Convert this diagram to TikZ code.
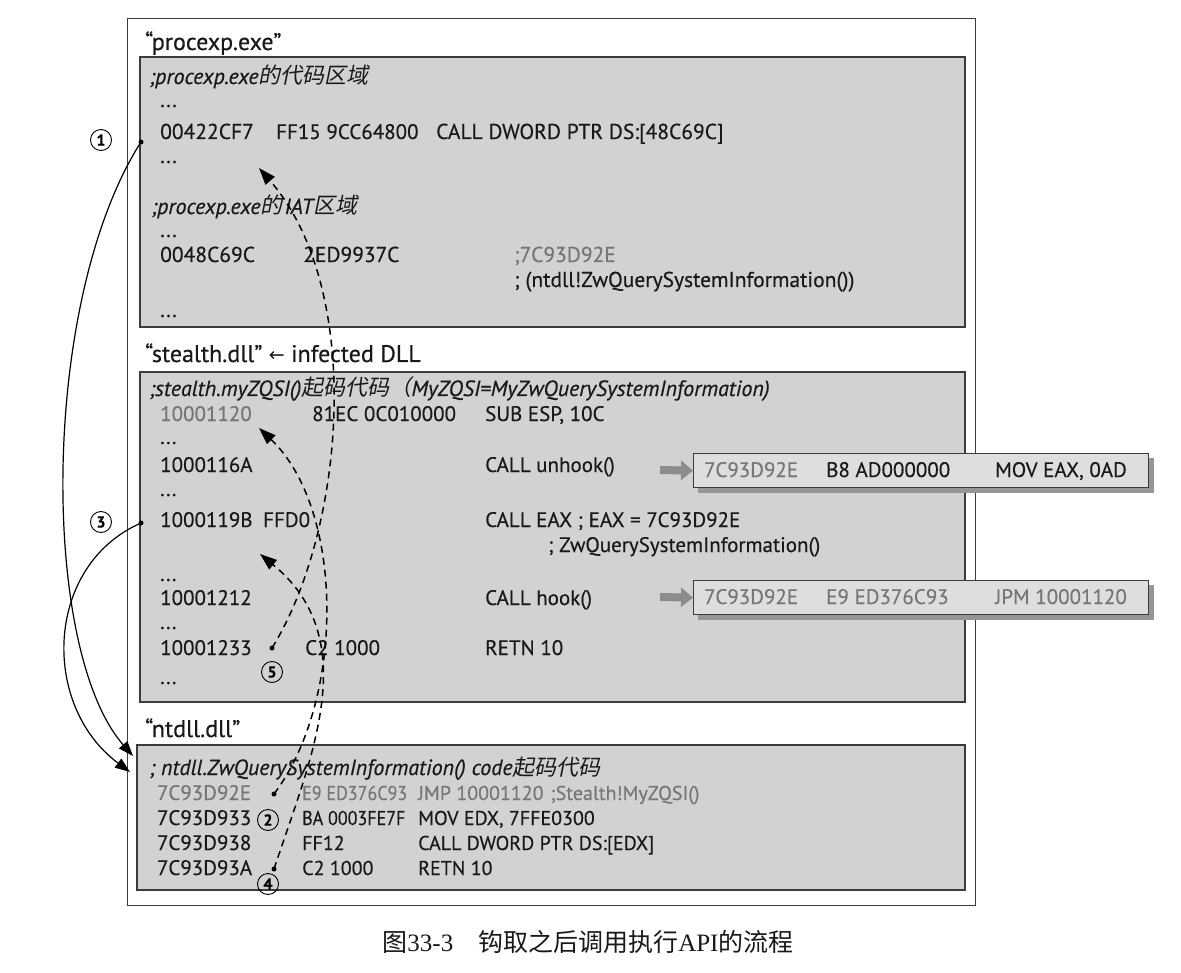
\documentclass[tikz,border=0pt]{standalone}
\usepackage{graphicx}
\usepackage{fontspec}
\setmainfont{PT Sans}[FakeBold=0.35]
\newfontfamily\cjk{Noto Sans CJK SC}
\newfontfamily\cjkit[FakeSlant=0.2]{Noto Sans CJK SC}
\newfontfamily\dejavu{DejaVu Sans}
\newfontfamily\serifcap{Liberation Serif}
\usetikzlibrary{arrows.meta}
\newcommand{\narrow}[1]{\scalebox{0.9}[1]{#1}}
\definecolor{boxgray}{RGB}{210,210,210}
\definecolor{popgray}{RGB}{222,222,222}
\definecolor{txtgray}{RGB}{118,118,118}
\definecolor{txtdark}{RGB}{25,25,25}
\definecolor{edgegray}{RGB}{60,60,60}
\definecolor{shadowgray}{RGB}{150,150,150}
\definecolor{blockarrow}{RGB}{140,140,140}
\begin{document}
\begin{tikzpicture}[x=1pt,y=-1pt,
  txt/.style={anchor=base west,inner sep=0pt,text=txtdark,font=\fontsize{21.5}{26}\selectfont},
  txs/.style={anchor=base west,inner sep=0pt,text=txtdark,font=\fontsize{21}{25}\selectfont},
  txn/.style={anchor=base west,inner sep=0pt,text=txtdark,font=\fontsize{20}{24}\selectfont},
  lbl/.style={anchor=base west,inner sep=0pt,text=txtdark,font=\fontsize{22}{26}\selectfont\itshape},
  gtxt/.style={txt,text=txtgray},
  gtxs/.style={txs,text=txtgray},
  gtxn/.style={txn,text=txtgray},
  ttl/.style={anchor=base west,inner sep=0pt,text=txtdark,font=\fontsize{24}{28}\selectfont},
  codebox/.style={draw=edgegray,line width=1.3pt,fill=boxgray},
  popbox/.style={draw=edgegray,line width=1.3pt,fill=popgray,anchor=north west,minimum width=455pt,minimum height=34pt,inner sep=0pt},
  num/.style={circle,draw,line width=0.9pt,inner sep=0pt,minimum size=21pt,font=\fontsize{16}{16}\selectfont\bfseries},
  dot/.style={circle,fill,inner sep=0pt,minimum size=5pt},
  flow/.style={line width=1.2pt,-{Triangle[length=15pt,width=11pt]}},
  dflow/.style={line width=1.5pt,dash pattern=on 7pt off 5pt,-{Triangle[length=17pt,width=12pt]}},
  blk/.style={line width=8pt,draw=blockarrow,-{Triangle[length=12pt,width=19pt]}},
]
\useasboundingbox (0,0) rectangle (1181,973);
\fill[white] (0,0) rectangle (1181,973);

% outer frame
\draw[line width=1pt,edgegray] (127,19) rectangle (975,905);

% ---------- procexp.exe ----------
\node[ttl] (tproc) at (145,50) {“procexp.exe”};
\draw[codebox] (140,57) rectangle (965,327);
\node[lbl] (l1) at (149,84) {;procexp.exe{\cjkit 的代码区域}};
\node[txt] at (160,107) {...};
\node[txt] (a1) at (160,139) {00422CF7};
\node[txs] at (276,139) {FF15 9CC64800};
\node[txt] at (436,139) {CALL DWORD PTR DS:[48C69C]};
\node[txt] at (160,163) {...};
\node[lbl] (l2) at (151,214) {;procexp.exe{\cjkit 的}\hspace{2pt}IAT{\cjkit 区域}};
\node[txt] at (160,237) {...};
\node[txt] at (160,262) {0048C69C};
\node[txt] at (303,262) {2ED9937C};
\node[gtxt] at (514,262) {;7C93D92E};
\node[txt] at (514,287) {; (ntdll!ZwQuerySystemInformation())};
\node[txt] at (160,317) {...};

% ---------- stealth.dll ----------
\node[ttl] (tst) at (145,362) {“stealth.dll” {\dejavu\fontsize{19}{22}\selectfont ←} infected DLL};
\draw[codebox] (140,372) rectangle (965,702);
\node[lbl] (l3) at (149,396) {;stealth.myZQSI(){\cjkit 起码代码（}MyZQSI=MyZwQuerySystemInformation)};
\node[gtxs] at (160,421) {10001120};
\node[txs] at (312,421) {81EC 0C010000};
\node[txs] at (485,421) {SUB ESP, 10C};
\node[txs] at (160,444) {...};
\node[txs] at (160,472) {1000116A};
\node[txs] (unhook) at (485,472) {CALL unhook()};
\node[txs] at (160,496) {...};
\node[txs] at (160,527) {1000119B};
\node[txs] at (263,527) {FFD0};
\node[txs] at (485,527) {CALL EAX ; EAX = 7C93D92E};
\node[txs] at (548,552) {; ZwQuerySystemInformation()};
\node[txs] at (160,581) {...};
\node[txs] at (160,605) {10001212};
\node[txs] (hook) at (485,605) {CALL hook()};
\node[txs] at (160,629) {...};
\node[txs] at (160,655) {10001233};
\node[txs] at (305,655) {C2 1000};
\node[txs] at (485,655) {RETN 10};
\node[txs] at (160,684) {...};

% popups
\fill[shadowgray] (698,458) rectangle (1154,493);
\node[popbox] (p1) at (693,453) {};
\node[gtxs] at (704,477) {7C93D92E};
\node[txs] at (826,477) {B8 AD000000};
\node[txs] at (995,477) {MOV EAX, 0AD};
\fill[shadowgray] (698,585) rectangle (1154,620);
\node[popbox] (p2) at (693,580) {};
\node[gtxs] at (704,604) {7C93D92E};
\node[gtxs] at (826,604) {E9 ED376C93};
\node[gtxs] at (995,604) {JPM 10001120};
\coordinate (b1) at (660,470);
\coordinate (b2) at (660,597);
\draw[blk] (b1) -- (p1.west);
\draw[blk] (b2) -- (p2.west);

% ---------- ntdll.dll ----------
\node[ttl] (tnt) at (145,737) {“ntdll.dll”};
\draw[codebox] (137,745) rectangle (965,890);
\node[lbl] (l4) at (149,775) {; ntdll.ZwQuerySystemInformation() code{\cjkit 起码代码}};
\node[gtxs] at (157,800) {7C93D92E};
\node[gtxn] at (302,800) {\narrow{E9 ED376C93}};
\node[gtxn] at (418,800) {JMP 10001120\hspace{7pt};Stealth!MyZQSI()};
\node[txs] at (157,825) {7C93D933};
\node[txn] at (302,825) {\narrow{BA 0003FE7F}};
\node[txn] at (418,825) {MOV EDX, 7FFE0300};
\node[txs] at (157,850) {7C93D938};
\node[txn] at (302,850) {FF12};
\node[txn] at (418,850) {CALL DWORD PTR DS:[EDX]};
\node[txs] at (157,875) {7C93D93A};
\node[txn] at (302,875) {C2 1000};
\node[txn] at (418,875) {RETN 10};

% ---------- dots, numbers ----------
\node[dot] (d1) at (141,142) {};
\node[dot] (d3) at (141,523) {};
\node[dot] (d5) at (272,648) {};
\node[dot] (d2) at (274,794) {};
\node[dot] (d4) at (274,869) {};
\node[num] (n1) at (101,140) {1};
\node[num] (n3) at (101,522) {3};
\node[num] (n5) at (272,672) {5};
\node[num] (n2) at (268,820) {2};
\node[num] (n4) at (268,884) {4};

\coordinate (t1) at (133,756);
\coordinate (t3) at (130,772);
\coordinate (t2) at (259,428);
\coordinate (t4) at (260,554);
\coordinate (t5) at (259,168);

% solid calls
\draw[flow] (d1.center) .. controls (40,300) and (40,650) .. (t1);
\draw[flow] (d3.center) .. controls (45,565) and (40,705) .. (t3);

% dashed jumps / returns
\draw[dflow] (d2.center) .. controls (345,700) and (345,510) .. (t2);
\draw[dflow] (d4.center) .. controls (310,760) and (365,640) .. (t4);
\draw[dflow] (d5.center) .. controls (345,530) and (365,290) .. (t5);

% caption
\node[inner sep=0pt,text=txtdark,font=\fontsize{25}{29}\selectfont] (cap) at (588,942)
  {{\cjk 图}{\serifcap 33-3}\hspace{25pt}{\cjk 钩取之后调用执行}{\serifcap API}{\cjk 的流程}};
\end{tikzpicture}
\end{document}
